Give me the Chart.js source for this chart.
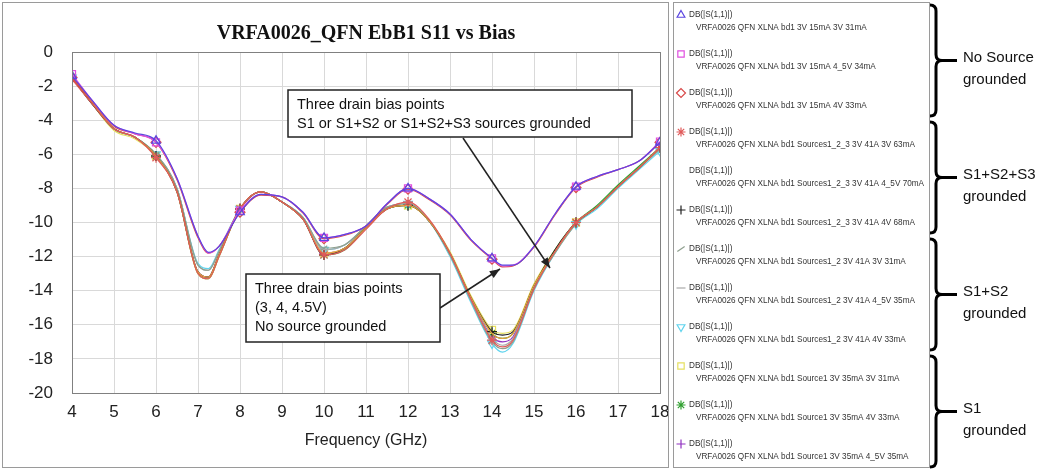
<!DOCTYPE html>
<html>
<head>
<meta charset="utf-8">
<script src="https://cdn.jsdelivr.net/npm/chart.js@4.4.1/dist/chart.umd.min.js"></script>
<style>
  html, body { margin: 0; padding: 0; background: #fff; }
  #wrap { width: 1055px; height: 470px; }
</style>
</head>
<body>
<div id="wrap"><canvas id="chartCanvas" width="1055" height="470"></canvas></div>
<script>
// Frequency points (GHz)
const freqGHz = [4, 4.5, 5, 5.5, 6, 6.5, 7, 7.25, 7.5, 8, 8.5, 9, 9.5, 10, 10.5, 11, 11.5, 12, 12.5, 13, 13.5, 14, 14.25, 14.5, 15, 15.5, 16, 16.5, 17, 17.5, 18];

// No source grounded
const noSrc3V31 = [-1.4, -2.9, -4.3, -4.75, -5.2, -7.4, -10.8, -11.75, -11.4, -9.4, -8.35, -8.5, -9.4, -10.9, -10.7, -10.2, -8.9, -8.0, -8.6, -9.5, -11.0, -12.1, -12.5, -12.5, -11.4, -9.5, -7.9, -7.3, -6.9, -6.4, -5.3];
const noSrc45V34 = [-1.3, -2.9, -4.3, -4.8, -5.3, -7.4, -10.8, -11.8, -11.4, -9.3, -8.35, -8.5, -9.4, -10.9, -10.7, -10.2, -8.9, -8.0, -8.6, -9.5, -11.0, -12.1, -12.55, -12.5, -11.4, -9.5, -7.9, -7.3, -6.9, -6.4, -5.25];
const noSrc4V33 = [-1.5, -2.95, -4.35, -4.8, -5.3, -7.5, -10.9, -11.8, -11.4, -9.4, -8.4, -8.5, -9.45, -10.95, -10.75, -10.2, -8.95, -8.05, -8.65, -9.55, -11.05, -12.15, -12.6, -12.55, -11.45, -9.55, -7.95, -7.35, -6.9, -6.4, -5.3];
// S1+S2+S3 grounded
const src123_3V63 = [-1.6, -3.1, -4.5, -5.0, -6.2, -8.2, -13.0, -13.3, -12.0, -9.2, -8.2, -8.8, -9.8, -11.9, -11.6, -10.4, -9.2, -8.8, -9.8, -11.8, -14.5, -16.9, -17.3, -16.9, -13.9, -11.7, -10.0, -9.1, -7.9, -6.8, -5.6];
const src123_45V70 = [-1.5, -3.0, -4.5, -5.0, -6.1, -8.2, -12.9, -13.2, -11.9, -9.2, -8.2, -8.8, -9.8, -11.8, -11.5, -10.3, -9.2, -9.0, -9.9, -11.8, -14.4, -16.5, -16.8, -16.5, -13.7, -11.7, -10.0, -9.1, -7.9, -6.8, -5.6];
const src123_4V68 = [-1.5, -3.1, -4.5, -5.0, -6.1, -8.2, -12.9, -13.2, -11.9, -9.2, -8.2, -8.8, -9.8, -11.9, -11.5, -10.3, -9.2, -9.0, -9.9, -11.8, -14.4, -16.4, -16.6, -16.4, -13.7, -11.6, -10.0, -9.1, -7.9, -6.8, -5.6];
// S1+S2 grounded
const src12_3V31 = [-1.5, -3.0, -4.5, -5.0, -6.0, -8.0, -12.5, -12.8, -11.7, -9.2, -8.2, -8.8, -9.7, -11.5, -11.3, -10.2, -9.1, -8.9, -9.9, -11.9, -14.6, -17.0, -17.4, -17.0, -13.9, -11.8, -10.1, -9.1, -7.9, -6.8, -5.7];
const src12_45V35 = [-1.5, -3.0, -4.5, -5.0, -6.0, -8.0, -12.5, -12.8, -11.7, -9.2, -8.2, -8.8, -9.7, -11.6, -11.3, -10.2, -9.1, -8.9, -9.9, -11.9, -14.5, -16.8, -17.2, -16.8, -13.8, -11.7, -10.0, -9.1, -7.9, -6.8, -5.7];
const src12_4V33 = [-1.5, -3.0, -4.5, -5.0, -6.0, -8.0, -12.4, -12.7, -11.6, -9.2, -8.2, -8.8, -9.7, -11.6, -11.3, -10.2, -9.1, -8.9, -9.9, -12.0, -14.7, -17.1, -17.6, -17.1, -14.0, -11.8, -10.1, -9.2, -8.0, -6.9, -5.8];
// S1 grounded
const src1_3V31 = [-1.5, -3.1, -4.6, -5.1, -6.1, -8.2, -13.0, -13.3, -12.0, -9.2, -8.2, -8.8, -9.8, -11.8, -11.5, -10.3, -9.2, -9.0, -9.9, -11.7, -14.3, -16.3, -16.5, -16.3, -13.6, -11.6, -10.0, -9.1, -7.9, -6.8, -5.6];
const src1_4V33 = [-1.5, -3.1, -4.5, -5.0, -6.1, -8.2, -13.0, -13.3, -12.0, -9.2, -8.2, -8.8, -9.8, -11.9, -11.6, -10.3, -9.2, -9.0, -9.9, -11.8, -14.4, -16.5, -16.8, -16.5, -13.7, -11.6, -10.0, -9.0, -7.8, -6.7, -5.6];
const src1_45V35 = [-1.5, -3.1, -4.5, -5.0, -6.1, -8.2, -12.9, -13.2, -11.9, -9.2, -8.2, -8.8, -9.8, -11.8, -11.5, -10.3, -9.2, -9.0, -9.9, -11.8, -14.5, -16.7, -17.0, -16.7, -13.8, -11.7, -10.0, -9.1, -7.9, -6.8, -5.6];

const seriesNames = [
  'VRFA0026 QFN XLNA bd1 3V 15mA 3V 31mA',
  'VRFA0026 QFN XLNA bd1 3V 15mA 4_5V 34mA',
  'VRFA0026 QFN XLNA bd1 3V 15mA 4V 33mA',
  'VRFA0026 QFN XLNA bd1 Sources1_2_3 3V 41A 3V 63mA',
  'VRFA0026 QFN XLNA bd1 Sources1_2_3 3V 41A 4_5V 70mA',
  'VRFA0026 QFN XLNA bd1 Sources1_2_3 3V 41A 4V 68mA',
  'VRFA0026 QFN XLNA bd1 Sources1_2 3V 41A 3V 31mA',
  'VRFA0026 QFN XLNA bd1 Sources1_2 3V 41A 4_5V 35mA',
  'VRFA0026 QFN XLNA bd1 Sources1_2 3V 41A 4V 33mA',
  'VRFA0026 QFN XLNA bd1 Source1 3V 35mA 3V 31mA',
  'VRFA0026 QFN XLNA bd1 Source1 3V 35mA 4V 33mA',
  'VRFA0026 QFN XLNA bd1 Source1 3V 35mA 4_5V 35mA'
];
const seriesValues = [noSrc3V31, noSrc45V34, noSrc4V33, src123_3V63, src123_45V70, src123_4V68,
  src12_3V31, src12_45V35, src12_4V33, src1_3V31, src1_4V33, src1_45V35];
const groupNames = [['No Source', 'grounded'], ['S1+S2+S3', 'grounded'], ['S1+S2', 'grounded'], ['S1', 'grounded']];

// styling per series: line colour, marker style, marker radius, rotation
const seriesStyles = [
  { color: '#5b46e0', marker: 'triangle', r: 5, rot: 0 },
  { color: '#e050e0', marker: 'rect', r: 5, rot: 0 },
  { color: '#d84848', marker: 'rectRot', r: 5, rot: 0 },
  { color: '#e05a5a', marker: 'star', r: 5, rot: 0 },
  { color: '#e8a040', marker: false, r: 0, rot: 0 },
  { color: '#202020', marker: 'cross', r: 5, rot: 0 },
  { color: '#8fa08f', marker: 'line', r: 4, rot: -35 },
  { color: '#a8a8a8', marker: 'line', r: 4, rot: 0 },
  { color: '#60d4ee', marker: 'triangle', r: 5, rot: 180 },
  { color: '#e6e060', marker: 'rect', r: 5, rot: 0 },
  { color: '#30a030', marker: 'star', r: 5, rot: 0 },
  { color: '#9030c0', marker: 'cross', r: 5, rot: 0 }
];

const FONT = '"Liberation Sans", Arial, sans-serif';

const datasets = seriesValues.map((vals, i) => {
  const st = seriesStyles[i];
  return {
    label: seriesNames[i],
    data: vals.map((v, j) => ({ x: freqGHz[j], y: v })),
    borderColor: st.color,
    borderWidth: 1.2,
    cubicInterpolationMode: 'monotone',
    pointStyle: st.marker,
    rotation: st.rot,
    pointRadius: (ctx) => (st.marker && freqGHz[ctx.dataIndex] % 2 === 0 ? st.r : 0),
    pointHoverRadius: 0,
    pointBorderColor: st.color,
    pointBackgroundColor: 'rgba(0,0,0,0)',
    pointBorderWidth: 1.2
  };
});

function arrow(ctx, x1, y1, x2, y2) {
  ctx.beginPath();
  ctx.moveTo(x1, y1);
  ctx.lineTo(x2, y2);
  ctx.stroke();
  const a = Math.atan2(y2 - y1, x2 - x1);
  const len = 11, half = 0.38;
  ctx.beginPath();
  ctx.moveTo(x2, y2);
  ctx.lineTo(x2 - len * Math.cos(a - half), y2 - len * Math.sin(a - half));
  ctx.lineTo(x2 - len * Math.cos(a + half), y2 - len * Math.sin(a + half));
  ctx.closePath();
  ctx.fill();
}

function brace(ctx, x, top, bottom, w) {
  const mid = (top + bottom) / 2;
  ctx.beginPath();
  ctx.moveTo(x, top);
  ctx.quadraticCurveTo(x + w, top, x + w, top + w);
  ctx.lineTo(x + w, mid - w);
  ctx.quadraticCurveTo(x + w, mid, x + 2 * w, mid);
  ctx.quadraticCurveTo(x + w, mid, x + w, mid + w);
  ctx.lineTo(x + w, bottom - w);
  ctx.quadraticCurveTo(x + w, bottom, x, bottom);
  ctx.stroke();
  ctx.beginPath();
  ctx.moveTo(x + 2 * w, mid);
  ctx.lineTo(x + 2 * w + 15, mid);
  ctx.stroke();
  return mid;
}

function textBox(ctx, x, y, w, h, lines, lineGap) {
  ctx.fillStyle = '#fff';
  ctx.fillRect(x, y, w, h);
  ctx.strokeStyle = '#222';
  ctx.lineWidth = 1.5;
  ctx.strokeRect(x, y, w, h);
  ctx.fillStyle = '#111';
  ctx.font = '14.5px ' + FONT;
  ctx.textAlign = 'left';
  ctx.textBaseline = 'middle';
  lines.forEach((t, i) => ctx.fillText(t, x + 9, y + 15 + i * lineGap));
}

const decor = {
  id: 'decor',
  beforeDraw(chart) {
    const c = chart.ctx;
    c.save();
    c.fillStyle = '#fff';
    c.fillRect(0, 0, chart.width, chart.height);
    c.restore();
  },
  afterDraw(chart) {
    const c = chart.ctx;
    const area = chart.chartArea;
    c.save();
    // plot area border
    c.strokeStyle = '#808080';
    c.lineWidth = 1;
    c.strokeRect(Math.round(area.left) + 0.5, Math.round(area.top) + 0.5,
      Math.round(area.right - area.left), Math.round(area.bottom - area.top));
    // outer chart border and legend box
    c.strokeStyle = '#9a9a9a';
    c.strokeRect(2.5, 2.5, 666, 465);
    c.strokeRect(673.5, 2.5, 256, 465);

    // title centred over the plot area
    c.fillStyle = '#111';
    c.font = 'bold 20px "Liberation Serif", "Times New Roman", serif';
    c.textAlign = 'center';
    c.textBaseline = 'middle';
    c.fillText('VRFA0026_QFN EbB1 S11 vs Bias', (area.left + area.right) / 2, 34);

    // legend entries
    const drawPoint = Chart.helpers && Chart.helpers.drawPoint;
    seriesNames.forEach((name, i) => {
      const st = seriesStyles[i];
      const y = 15 + i * 39;
      if (st.marker && drawPoint) {
        c.strokeStyle = st.color;
        c.fillStyle = 'rgba(0,0,0,0)';
        c.lineWidth = 1.2;
        drawPoint(c, { pointStyle: st.marker, rotation: st.rot, radius: 4.5, borderWidth: 1.2 }, 681, y);
      }
      c.fillStyle = '#333';
      c.font = '8.2px ' + FONT;
      c.textAlign = 'left';
      c.textBaseline = 'middle';
      c.fillText('DB(|S(1,1)|)', 689, y);
      c.fillText(name, 696, y + 13);
    });

    // group braces
    c.strokeStyle = '#000';
    c.lineWidth = 3;
    c.fillStyle = '#111';
    groupNames.forEach((g, k) => {
      const top = 15 + k * 3 * 39 - 10;
      const bottom = 15 + (k * 3 + 2) * 39 + 23;
      const mid = brace(c, 930, top, bottom, 6);
      c.font = '15px ' + FONT;
      c.textAlign = 'left';
      c.textBaseline = 'middle';
      c.fillText(g[0], 963, mid - 3);
      c.fillText(g[1], 963, mid + 19);
    });

    // annotations
    c.strokeStyle = '#222';
    c.fillStyle = '#222';
    c.lineWidth = 1.5;
    arrow(c, 463, 138, 550, 268);
    arrow(c, 440, 308, 500, 269);
    textBox(c, 288, 90, 344, 47, ['Three drain bias points', 'S1 or S1+S2 or S1+S2+S3 sources grounded'], 19);
    textBox(c, 246, 274, 194, 68, ['Three drain bias points', '(3, 4, 4.5V)', 'No source grounded'], 19);
    c.restore();
  }
};

new Chart(document.getElementById('chartCanvas').getContext('2d'), {
  type: 'line',
  data: { datasets: datasets },
  options: {
    responsive: false,
    animation: false,
    events: [],
    layout: { padding: { top: 52, right: 395, bottom: 0, left: 0 } },
    plugins: { legend: { display: false }, tooltip: { enabled: false }, title: { display: false } },
    scales: {
      x: {
        type: 'linear',
        min: 4,
        max: 18,
        afterFit: (s) => { s.height = 77; },
        ticks: { stepSize: 1, padding: 9, color: '#222', font: { family: FONT, size: 17 } },
        grid: { color: '#d9d9d9', drawTicks: false },
        border: { display: false },
        title: { display: true, text: 'Frequency (GHz)', color: '#222', font: { family: FONT, size: 16 }, padding: { top: 4, bottom: 20 } }
      },
      y: {
        min: -20,
        max: 0,
        afterFit: (s) => { s.width = 72; },
        ticks: { stepSize: 2, padding: 19, color: '#222', font: { family: FONT, size: 17 } },
        grid: { color: '#d9d9d9', drawTicks: false },
        border: { display: false }
      }
    }
  },
  plugins: [decor]
});
</script>
</body>
</html>
